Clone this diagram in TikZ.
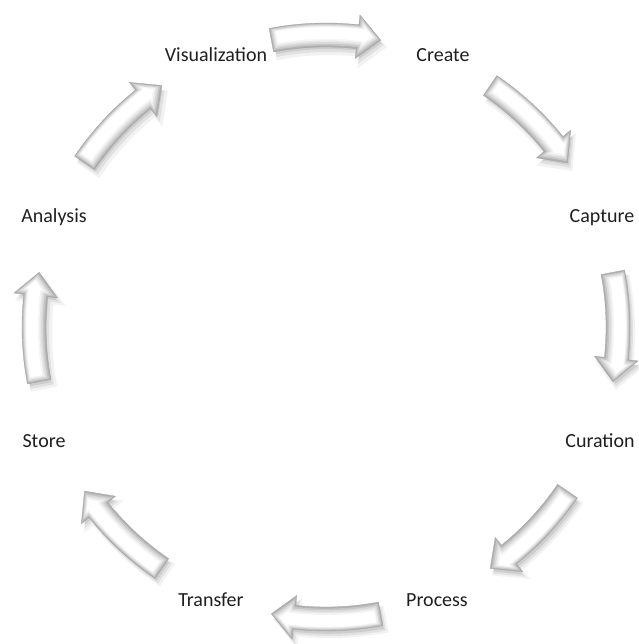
\documentclass[tikz,border=0pt]{standalone}
\usepackage{fontspec}
\setmainfont{Carlito}
\begin{document}
\begin{tikzpicture}[x=1pt,y=1pt,
  stage/.style={font=\fontsize{20}{24}\selectfont, text=black!88, inner sep=0pt, anchor=base},
  shadowlayer/.style={fill=black, opacity=#1},
  bevel/.style={fill=#1},
  rim/.style={fill=gray!62, draw=gray!72, line width=0.3pt}]

\useasboundingbox (0,0) rectangle (638,644);

% geometry of the curved block arrows (radius, half widths, half span, head length)
\def\R{292}\def\w{12}\def\W{22}\def\D{10.8}\def\H{4.6}

% one layer of a curved block arrow: #1 centre angle, #2 inset, #3 style
\newcommand\arrowlayer[3]{%
  \pgfmathsetmacro\tA{#1+\D-#2*0.196}%
  \pgfmathsetmacro\bA{#1-\D+\H-#2*0.196}%
  \pgfmathsetmacro\pA{#1-\D+#2*0.196*1.5}%
  \pgfmathsetmacro\ro{\R+\w-#2*0.7}%
  \pgfmathsetmacro\ri{\R-\w+#2*1.35}%
  \pgfmathsetmacro\hoR{\R+\W-#2*2.0}%
  \pgfmathsetmacro\hiR{\R-\W+#2*2.7}%
  \pgfmathsetmacro\tipR{\R+#2*0.35}%
  \path[#3] (\tA:\ro) arc[start angle=\tA, end angle=\bA, radius=\ro]
    -- (\bA:\hoR) -- (\pA:\tipR) -- (\bA:\hiR) -- (\bA:\ri)
    arc[start angle=\bA, end angle=\tA, radius=\ri] -- cycle;}

% complete shaded arrow with soft shadow
\newcommand\cyclearrow[1]{%
  \begin{scope}[shift={(4,-6)}]\arrowlayer{#1}{-1.5}{shadowlayer=0.05}\end{scope}
  \begin{scope}[shift={(3,-5)}]\arrowlayer{#1}{0}{shadowlayer=0.07}\end{scope}
  \begin{scope}[shift={(2,-3.5)}]\arrowlayer{#1}{1}{shadowlayer=0.09}\end{scope}
  \arrowlayer{#1}{0}{rim}
  \arrowlayer{#1}{1.2}{bevel=gray!45}
  \arrowlayer{#1}{2.4}{bevel=gray!30}
  \arrowlayer{#1}{3.6}{bevel=gray!18}
  \arrowlayer{#1}{4.8}{bevel=gray!8}
  \arrowlayer{#1}{6}{bevel=white}}

\begin{scope}[shift={(326,317)}]
  \cyclearrow{90}
  \cyclearrow{45}
  \cyclearrow{0}
  \cyclearrow{-45}
  \cyclearrow{-90}
  \cyclearrow{-135}
  \cyclearrow{180}
  \cyclearrow{135}
\end{scope}

% stage labels
\node[stage] (vis) at (216,582) {Visualization};
\node[stage] (cre) at (443,582) {Create};
\node[stage] (cap) at (602,421) {Capture};
\node[stage] (cur) at (600,196) {Curation};
\node[stage] (pro) at (437,37) {Process};
\node[stage] (tra) at (211,37) {Transfer};
\node[stage] (sto) at (44,196) {Store};
\node[stage] (ana) at (54,421) {Analysis};
\end{tikzpicture}
\end{document}
